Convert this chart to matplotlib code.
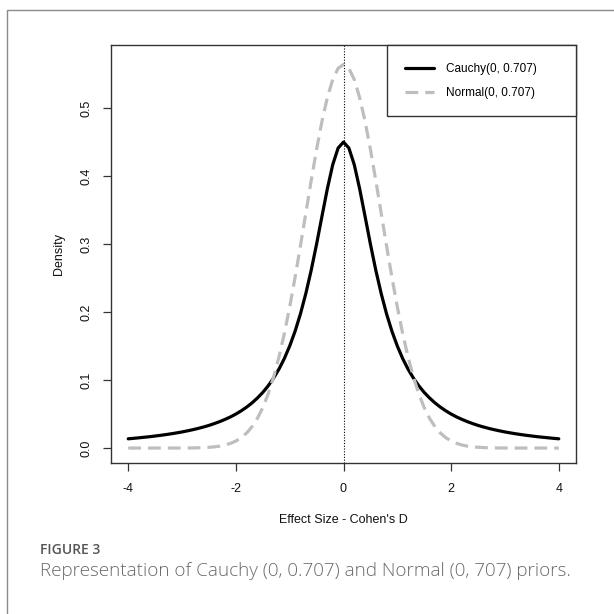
import numpy as np
import matplotlib
matplotlib.use("Agg")
import matplotlib.pyplot as plt
from matplotlib.patches import Rectangle

# effect size grid (x) and densities
effect_size = np.linspace(-4, 4, 81)
cauchy_density = [
    0.0136, 0.0143, 0.0151, 0.0159, 0.0167, 0.0177, 0.0187, 0.0198, 0.0210, 0.0223,
    0.0237, 0.0253, 0.0270, 0.0289, 0.0310, 0.0333, 0.0360, 0.0389, 0.0422, 0.0458,
    0.0500, 0.0548, 0.0602, 0.0664, 0.0736, 0.0818, 0.0915, 0.1028, 0.1160, 0.1316,
    0.1501, 0.1718, 0.1974, 0.2274, 0.2617, 0.3001, 0.3411, 0.3815, 0.4169, 0.4414,
    0.4502,
    0.4414, 0.4169, 0.3815, 0.3411, 0.3001, 0.2617, 0.2274, 0.1974, 0.1718, 0.1501,
    0.1316, 0.1160, 0.1028, 0.0915, 0.0818, 0.0736, 0.0664, 0.0602, 0.0548, 0.0500,
    0.0458, 0.0422, 0.0389, 0.0360, 0.0333, 0.0310, 0.0289, 0.0270, 0.0253, 0.0237,
    0.0223, 0.0210, 0.0198, 0.0187, 0.0177, 0.0167, 0.0159, 0.0151, 0.0143, 0.0136,
]
normal_density = [
    0.0, 0.0, 0.0, 0.0, 0.0, 0.0, 0.0, 0.0, 0.0, 0.0,
    0.0001, 0.0001, 0.0002, 0.0004, 0.0007, 0.0011, 0.0018, 0.0028, 0.0045, 0.0069,
    0.0103, 0.0153, 0.0221, 0.0314, 0.0436, 0.0595, 0.0795, 0.1041, 0.1337, 0.1683,
    0.2076, 0.2510, 0.2975, 0.3457, 0.3937, 0.4395, 0.4809, 0.5157, 0.5422, 0.5587,
    0.5643,
    0.5587, 0.5422, 0.5157, 0.4809, 0.4395, 0.3937, 0.3457, 0.2975, 0.2510, 0.2076,
    0.1683, 0.1337, 0.1041, 0.0795, 0.0595, 0.0436, 0.0314, 0.0221, 0.0153, 0.0103,
    0.0069, 0.0045, 0.0028, 0.0018, 0.0011, 0.0007, 0.0004, 0.0002, 0.0001, 0.0001,
    0.0, 0.0, 0.0, 0.0, 0.0, 0.0, 0.0, 0.0, 0.0, 0.0,
]
series_labels = ["Cauchy(0, 0.707)", "Normal(0, 0.707)"]
x_ticks = [-4, -2, 0, 2, 4]
y_ticks = [0.0, 0.1, 0.2, 0.3, 0.4, 0.5]
y_tick_labels = ["0.0", "0.1", "0.2", "0.3", "0.4", "0.5"]

plt.rcParams["font.family"] = ["Liberation Sans", "DejaVu Sans"]

W = H = 614
fig = plt.figure(figsize=(6.14, 6.14), dpi=100)
fig.patch.set_facecolor("white")

# outer frame
frame = Rectangle((7 / W, -0.5), 2.0, 1 - 10 / H + 0.5, transform=fig.transFigure,
                  fill=False, edgecolor="#8a8a8a", linewidth=1.0)
fig.patches.append(frame)

left, right, top, bottom = 111, 576, 45, 463
ax = fig.add_axes([left / W, 1 - bottom / H, (right - left) / W, (bottom - top) / H])

ax.plot(effect_size, cauchy_density, color="black", linewidth=2.3,
        solid_capstyle="round", label=series_labels[0])
ax.plot(effect_size, normal_density, color="#bebebe", linewidth=2.3,
        dashes=(4, 2.2), label=series_labels[1])
ax.axvline(0, color="black", linewidth=0.8, linestyle=(0, (1, 1.5)))

ax.set_xlim(-4.32, 4.32)
ax.set_ylim(-0.022, 0.593)
ax.set_xticks(x_ticks)
ax.set_xticklabels([str(t) for t in x_ticks])
ax.set_yticks(y_ticks)
ax.set_yticklabels(y_tick_labels, rotation=90, va="center")

for s in ax.spines.values():
    s.set_color("#333333")
    s.set_linewidth(1.0)
ax.tick_params(axis="both", direction="out", length=5.5, width=0.9, color="#333333",
               labelsize=9, labelcolor="#111111")
ax.tick_params(axis="x", pad=9)
ax.tick_params(axis="y", pad=8)

ax.set_xlabel("Effect Size - Cohen's D", fontsize=9, color="#111111", labelpad=13.5)
ax.set_ylabel("Density", fontsize=9, color="#111111", labelpad=11)

leg = ax.legend(loc="upper right", bbox_to_anchor=((387 - left) / (right - left), 0,
                                                   (right - 387) / (right - left), 1.0),
                mode="expand", borderaxespad=0, fancybox=False, framealpha=1,
                edgecolor="#333333", fontsize=8.5, handlelength=2.45, handletextpad=1.05,
                labelspacing=1.02, borderpad=1.5)
leg.get_frame().set_linewidth(1.0)

fig.text(40 / W, 1 - 550 / H, "FIGURE 3", fontsize=10, color="#555555",
         family=["Open Sans", "DejaVu Sans"], fontweight="semibold", va="center", ha="left")
fig.text(40 / W, 1 - 571 / H, "Representation of Cauchy (0, 0.707) and Normal (0, 707) priors.",
         fontsize=13.6, color="#6a6a6a", family=["Open Sans", "DejaVu Sans"],
         fontweight="light", va="center", ha="left")

fig.savefig("out.png", dpi=100)
